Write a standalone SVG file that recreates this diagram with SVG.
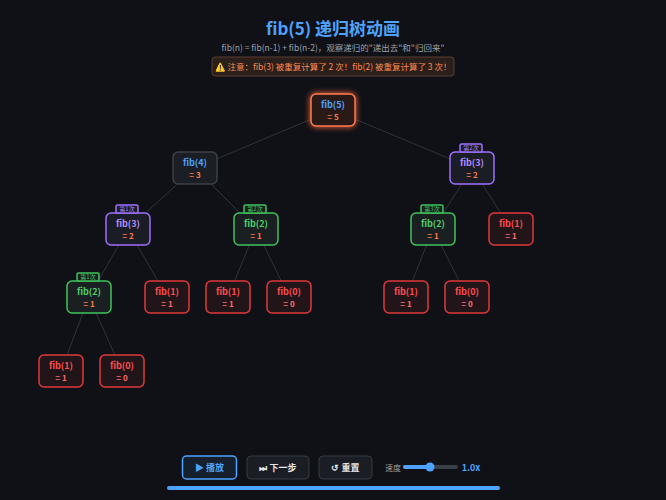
<svg xmlns="http://www.w3.org/2000/svg" width="666" height="500" viewBox="0 0 666 500">
<defs>
<style>
text{font-family:"Noto Sans CJK SC","Noto Sans",sans-serif;text-anchor:middle}
.n rect{stroke-width:1.5}
.t{font-size:9px;font-weight:bold}
.v{font-size:8px;font-weight:bold;fill:#ff7a45}
.def rect{fill:#1b1e25;stroke:#3b4049}.def .t{fill:#4da3ff}
.pur rect{fill:#1b1d26;stroke:#a070ff}.pur .t{fill:#b48cff}
.grn rect{fill:#1a1f22;stroke:#3fc45a}.grn .t{fill:#4fd06a}
.red rect{fill:#22151a;stroke:#e0383a}.red .t{fill:#ff4d4d}.red .v{fill:#ff6b6b}
.b{font-size:6px}
.bp{fill:#3a2e6e;stroke:#6a50c0;stroke-width:.5}.bg{fill:#1d4a2a;stroke:#2f8a45;stroke-width:.5}
#edges line{stroke:#2f333b;stroke-width:1}
.btn{fill:#1a1d24;stroke:#353a44;stroke-width:1}
.bt{font-size:9px;fill:#e6e6e6;font-weight:bold}
</style>
</defs>
<rect width="666" height="500" fill="#0f1116"/>
<text x="333" y="35" font-size="17" font-weight="bold" fill="#4da3ff">fib(5) 递归树动画</text>
<text x="333" y="51" font-size="8.5" fill="#9aa0aa">fib(n) = fib(n-1) + fib(n-2)，观察递归的"递出去"和"归回来"</text>
<rect x="212" y="57" width="242" height="19" rx="3" fill="#2a1f1a" stroke="#5a3f30"/>
<text x="333" y="70" font-size="8.5" fill="#ff8a50">⚠️ 注意：fib(3) 被重复计算了 2 次！fib(2) 被重复计算了 3 次！</text>
<g id="edges">
<line x1="333" y1="110" x2="195" y2="168"/><line x1="333" y1="110" x2="472" y2="168"/>
<line x1="195" y1="168" x2="128" y2="229"/><line x1="195" y1="168" x2="256" y2="229"/>
<line x1="472" y1="168" x2="433" y2="229"/><line x1="472" y1="168" x2="511" y2="229"/>
<line x1="128" y1="229" x2="89" y2="297"/><line x1="128" y1="229" x2="167" y2="297"/>
<line x1="256" y1="229" x2="228" y2="297"/><line x1="256" y1="229" x2="289" y2="297"/>
<line x1="433" y1="229" x2="406" y2="297"/><line x1="433" y1="229" x2="467" y2="297"/>
<line x1="89" y1="297" x2="61" y2="371"/><line x1="89" y1="297" x2="122" y2="371"/>
</g>
<g id="n5" class="n"><rect x="311" y="94" width="44" height="32" rx="5" fill="#2a1a17" stroke="#ff7a50" style="filter:drop-shadow(0 0 3px #ff6a40)"/><text class="t" x="333" y="108" fill="#4da3ff">fib(5)</text><text class="v" x="333" y="120">= 5</text></g>
<g id="n4" class="n def"><rect x="173" y="152" width="44" height="32" rx="5"/><text class="t" x="195" y="166">fib(4)</text><text class="v" x="195" y="178">= 3</text></g>
<g id="n3r" class="n pur"><rect x="450" y="152" width="44" height="32" rx="5"/><rect class="bp" x="460" y="144" width="22" height="8" rx="1.5"/><text class="b" x="471" y="150" fill="#a080ff">第2次</text><text class="t" x="472" y="166">fib(3)</text><text class="v" x="472" y="178">= 2</text></g>
<g id="n3l" class="n pur"><rect x="106" y="213" width="44" height="32" rx="5"/><rect class="bp" x="116" y="205" width="22" height="8" rx="1.5"/><text class="b" x="127" y="211" fill="#a080ff">第1次</text><text class="t" x="128" y="227">fib(3)</text><text class="v" x="128" y="239">= 2</text></g>
<g id="n2a" class="n grn"><rect x="234" y="213" width="44" height="32" rx="5"/><rect class="bg" x="244" y="205" width="22" height="8" rx="1.5"/><text class="b" x="255" y="211" fill="#3fc45a">第2次</text><text class="t" x="256" y="227">fib(2)</text><text class="v" x="256" y="239">= 1</text></g>
<g id="n2b" class="n grn"><rect x="411" y="213" width="44" height="32" rx="5"/><rect class="bg" x="421" y="205" width="22" height="8" rx="1.5"/><text class="b" x="432" y="211" fill="#3fc45a">第3次</text><text class="t" x="433" y="227">fib(2)</text><text class="v" x="433" y="239">= 1</text></g>
<g id="n1a" class="n red"><rect x="489" y="213" width="44" height="32" rx="5"/><text class="t" x="511" y="227">fib(1)</text><text class="v" x="511" y="239">= 1</text></g>
<g id="n2c" class="n grn"><rect x="67" y="281" width="44" height="32" rx="5"/><rect class="bg" x="77" y="273" width="22" height="8" rx="1.5"/><text class="b" x="88" y="279" fill="#3fc45a">第1次</text><text class="t" x="89" y="295">fib(2)</text><text class="v" x="89" y="307">= 1</text></g>
<g id="n1b" class="n red"><rect x="145" y="281" width="44" height="32" rx="5"/><text class="t" x="167" y="295">fib(1)</text><text class="v" x="167" y="307">= 1</text></g>
<g id="n1c" class="n red"><rect x="206" y="281" width="44" height="32" rx="5"/><text class="t" x="228" y="295">fib(1)</text><text class="v" x="228" y="307">= 1</text></g>
<g id="n0a" class="n red"><rect x="267" y="281" width="44" height="32" rx="5"/><text class="t" x="289" y="295">fib(0)</text><text class="v" x="289" y="307">= 0</text></g>
<g id="n1d" class="n red"><rect x="384" y="281" width="44" height="32" rx="5"/><text class="t" x="406" y="295">fib(1)</text><text class="v" x="406" y="307">= 1</text></g>
<g id="n0b" class="n red"><rect x="445" y="281" width="44" height="32" rx="5"/><text class="t" x="467" y="295">fib(0)</text><text class="v" x="467" y="307">= 0</text></g>
<g id="n1e" class="n red"><rect x="39" y="355" width="44" height="32" rx="5"/><text class="t" x="61" y="369">fib(1)</text><text class="v" x="61" y="381">= 1</text></g>
<g id="n0c" class="n red"><rect x="100" y="355" width="44" height="32" rx="5"/><text class="t" x="122" y="369">fib(0)</text><text class="v" x="122" y="381">= 0</text></g>
<g id="controls">
<rect x="182.500" y="456" width="54" height="23" rx="4" fill="#16202c" stroke="#4da3ff" stroke-width="1.5"/><text class="bt" x="209.500" y="471" fill="#4da3ff" style="fill:#4da3ff">▶ 播放</text>
<rect class="btn" x="247" y="456" width="62" height="23" rx="4"/><text class="bt" x="278" y="471">⏭ 下一步</text>
<rect class="btn" x="319" y="456" width="53" height="23" rx="4"/><text class="bt" x="345.500" y="471">↺ 重置</text>
<text x="393" y="471" font-size="8" fill="#9aa0aa">速度</text>
<rect x="403" y="465" width="55" height="4" rx="2" fill="#3a3f48"/><rect x="403" y="465" width="27" height="4" rx="2" fill="#4da3ff"/><circle cx="430" cy="467" r="4.500" fill="#4da3ff"/>
<text x="471" y="471" font-size="9" font-weight="bold" fill="#4da3ff">1.0x</text>
<rect x="167" y="486" width="333" height="4" rx="2" fill="#4da3ff"/>
</g>
</svg>
